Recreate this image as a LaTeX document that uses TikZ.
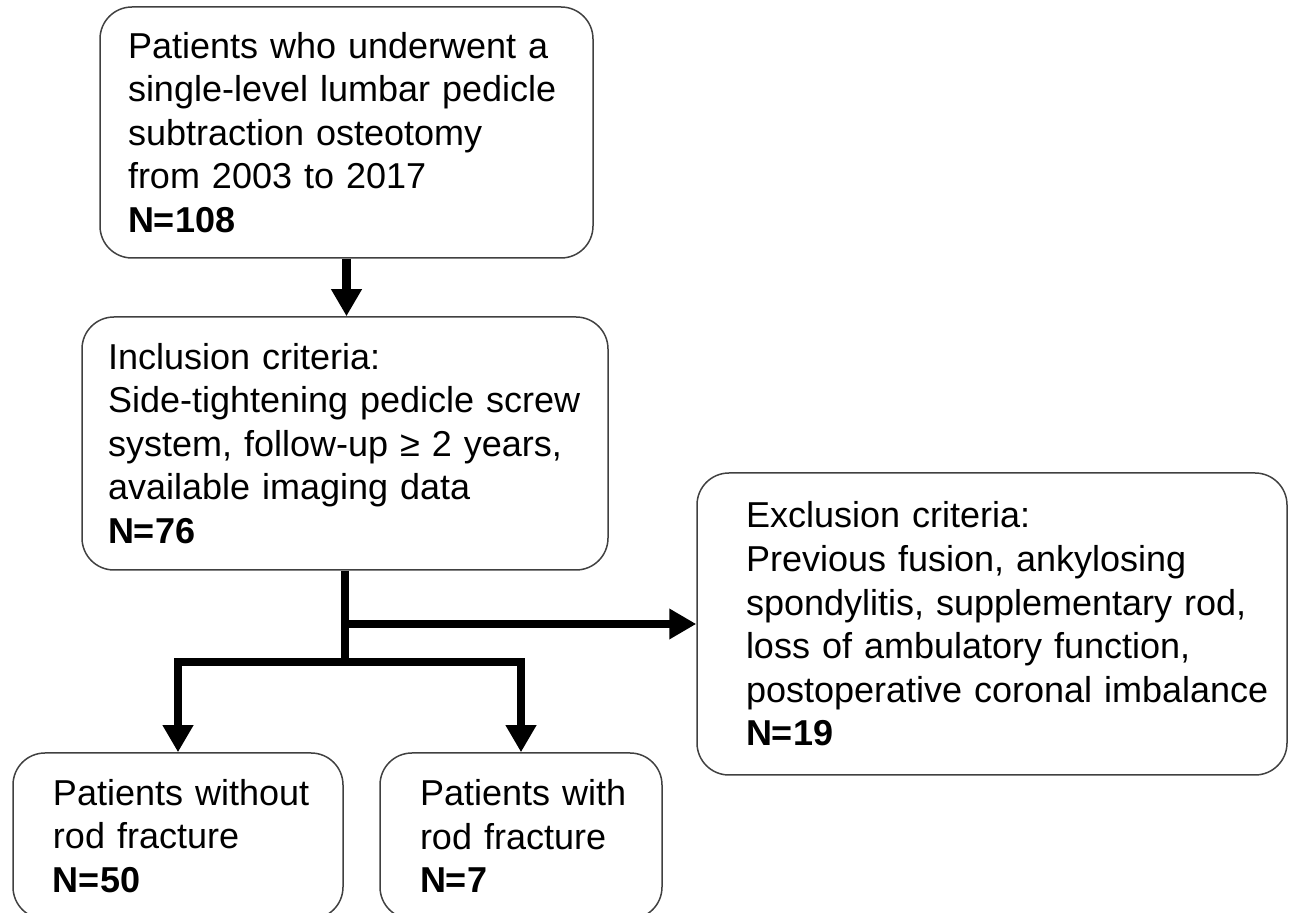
\documentclass[tikz,border=0pt]{standalone}
\usepackage{fontspec}
\setmainfont{Liberation Sans}
\usetikzlibrary{arrows.meta}

\tikzset{
  stage/.style = {draw=black!75, line width=0.75pt, rounded corners=16pt,
    inner xsep=8pt, inner ysep=0pt, align=left, text=black,
    font=\fontsize{18}{21.8}\selectfont},
  indent/.style = {execute at begin node={\leftskip=#1}},
  trunk/.style = {line width=4.25pt},
  flow/.style = {trunk, -{Triangle[length=13.5pt,width=14.5pt]}},
  split/.style = {trunk, {Triangle[length=13.5pt,width=14.5pt]}-{Triangle[length=13.5pt,width=14.5pt]}},
}

\begin{document}
\begin{tikzpicture}[x=0.5pt, y=-0.5pt]
  \useasboundingbox (0,0) rectangle (1291,913);

  \node[stage, indent=6pt, minimum height=125.5pt, text width=230.5pt] (pool) at (346.5,132.5)
    {Patients who underwent a\\ single-level lumbar pedicle\\ subtraction osteotomy\\ from 2003 to 2017\\ \textbf{N=108}};
  \node[stage, indent=5pt, minimum height=126.5pt, text width=247pt] (incl) at (345,443.5)
    {Inclusion criteria:\\ Side-tightening pedicle screw\\ system, follow-up ≥ 2 years,\\ available imaging data\\ \textbf{N=76}};
  \node[stage, indent=16.5pt, minimum height=151pt, text width=279pt] (excl) at (992,624)
    {Exclusion criteria:\\ Previous fusion, ankylosing\\ spondylitis, supplementary rod,\\ loss of ambulatory function,\\ postoperative coronal imbalance\\ \textbf{N=19}};
  \node[stage, indent=12pt, minimum height=83pt, text width=149pt] (nofrac) at (178,836)
    {Patients without\\ rod fracture\\ \textbf{N=50}};
  \node[stage, indent=12pt, minimum height=83pt, text width=125pt] (frac) at (521,836)
    {Patients with\\ rod fracture\\ \textbf{N=7}};

  \coordinate (fork) at (345,662);

  \draw[flow] (pool.south) -- (pool.south |- incl.north);
  \draw[trunk] (incl.south) -- (fork);
  \draw[flow] (incl.south |- excl.west) -- (excl.west);
  \draw[split] (nofrac.north) -- (nofrac.north |- fork) -- (frac.north |- fork) -- (frac.north);
\end{tikzpicture}
\end{document}
